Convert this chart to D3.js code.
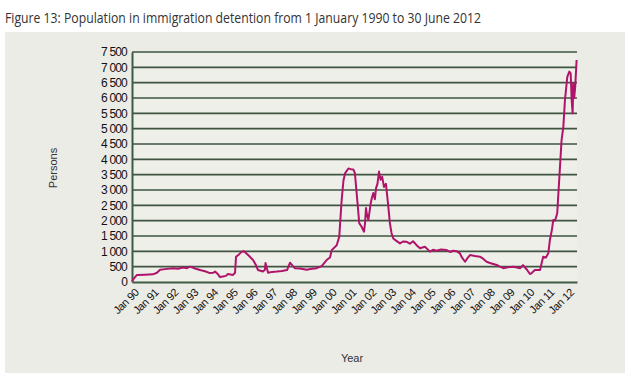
<!DOCTYPE html>
<html>
<head>
<meta charset="utf-8">
<script src="https://cdn.jsdelivr.net/npm/d3@7"></script>
<style>
  body { margin: 0; background: #fff; }
  svg text { font-family: "Liberation Sans", Arial, sans-serif; }
</style>
</head>
<body>
<div id="chart"></div>
<script>
// chart data (decimal year, persons in detention)
var years = [1990.00, 1990.10, 1990.25, 1990.66, 1991.06, 1991.26, 1991.42, 1991.67, 1992.07, 1992.33,
  1992.58, 1992.78, 1992.93, 1993.19, 1993.44, 1993.69, 1993.94, 1994.10, 1994.20, 1994.35,
  1994.45, 1994.60, 1994.75, 1994.85, 1995.11, 1995.21, 1995.26, 1995.41, 1995.55, 1995.66,
  1995.87, 1996.12, 1996.27, 1996.37, 1996.62, 1996.72, 1996.75, 1996.88, 1997.08, 1997.33,
  1997.58, 1997.84, 1997.99, 1998.14, 1998.24, 1998.49, 1998.83, 1999.10, 1999.34, 1999.59,
  1999.84, 2000.01, 2000.10, 2000.35, 2000.48, 2000.60, 2000.69, 2000.77, 2000.94, 2001.07,
  2001.19, 2001.27, 2001.39, 2001.49, 2001.61, 2001.73, 2001.78, 2001.83, 2001.88, 2001.95,
  2002.07, 2002.13, 2002.20, 2002.28, 2002.34, 2002.41, 2002.49, 2002.57, 2002.65, 2002.74,
  2002.84, 2002.96, 2003.04, 2003.12, 2003.21, 2003.35, 2003.55, 2003.70, 2003.89, 2004.05,
  2004.21, 2004.39, 2004.56, 2004.81, 2005.07, 2005.22, 2005.40, 2005.62, 2005.91, 2006.08,
  2006.24, 2006.43, 2006.58, 2006.68, 2006.84, 2006.94, 2007.09, 2007.34, 2007.59, 2007.75,
  2007.93, 2008.10, 2008.44, 2008.60, 2008.77, 2009.01, 2009.28, 2009.46, 2009.62, 2009.77,
  2009.97, 2010.12, 2010.22, 2010.37, 2010.63, 2010.79, 2010.93, 2011.05, 2011.13, 2011.23,
  2011.30, 2011.39, 2011.50, 2011.60, 2011.72, 2011.81, 2011.89, 2012.01, 2012.11, 2012.18,
  2012.23, 2012.28, 2012.31, 2012.36, 2012.41, 2012.48];
var persons = [30, 120, 230, 240, 250, 300, 400, 420, 450, 430,
  470, 450, 500, 440, 390, 350, 290, 300, 340, 250,
  160, 180, 200, 260, 230, 300, 820, 900, 990, 1000,
  880, 720, 550, 390, 340, 400, 620, 300, 330, 340,
  360, 390, 630, 520, 450, 440, 400, 430, 450, 520,
  715, 800, 1040, 1200, 1480, 2670, 3300, 3540, 3700, 3680,
  3670, 3550, 2670, 1920, 1800, 1640, 1900, 2410, 2200, 2020,
  2570, 2750, 2900, 2700, 3060, 3200, 3600, 3330, 3430, 3100,
  3200, 2460, 1920, 1600, 1420, 1350, 1260, 1320, 1310, 1250,
  1330, 1200, 1100, 1150, 990, 1050, 1020, 1060, 1040, 980,
  1020, 1000, 935, 800, 660, 760, 880, 850, 825, 760,
  660, 620, 555, 500, 450, 480, 500, 470, 450, 550,
  400, 260, 300, 390, 390, 825, 800, 935, 1370, 1700,
  2020, 2000, 2240, 3330, 4630, 5060, 5930, 6690, 6860, 6800,
  5930, 5500, 6480, 6000, 6370, 7240];
var yTicks = [0, 500, 1000, 1500, 2000, 2500, 3000, 3500, 4000, 4500, 5000, 5500, 6000, 6500, 7000, 7500];
var xTicks = d3.range(1990, 2013);
var xTickLabels = xTicks.map(function(y) { return "Jan " + String(y).slice(2); });
var title = "Figure 13: Population in immigration detention from 1 January 1990 to 30 June 2012";

var W = 640, H = 373;
var plotLeft = 132, plotRight = 577, plotTop = 52, plotBottom = 282;

var svg = d3.select("#chart").append("svg")
  .attr("width", W).attr("height", H);

// title
svg.append("text")
  .attr("x", 5).attr("y", 23)
  .style("font-family", "'Open Sans', sans-serif")
  .style("font-size", "15px")
  .attr("fill", "#333")
  .attr("textLength", 476)
  .attr("lengthAdjust", "spacingAndGlyphs")
  .text(title);

// grey panel
svg.append("rect")
  .attr("x", 5).attr("y", 32)
  .attr("width", 620).attr("height", H - 32)
  .attr("fill", "#ecece6");

var x = d3.scaleLinear().domain([1990, 2012.5]).range([plotLeft, plotRight]);
var y = d3.scaleLinear().domain([0, 7500]).range([plotBottom, plotTop]);

// plot background
svg.append("rect")
  .attr("x", plotLeft).attr("y", plotTop)
  .attr("width", plotRight - plotLeft).attr("height", plotBottom - plotTop)
  .attr("fill", "#efefea");

// horizontal grid lines
svg.append("g").selectAll("line")
  .data(yTicks.slice(1))
  .join("line")
  .attr("x1", plotLeft).attr("x2", plotRight)
  .attr("y1", function(d) { return y(d); })
  .attr("y2", function(d) { return y(d); })
  .attr("stroke", "#3f5441")
  .attr("stroke-width", 1.6);

// y axis
var fmt = function(d) { return d3.format(",")(d).replace(",", " "); };
var yAxis = svg.append("g")
  .attr("transform", "translate(" + plotLeft + ",0)")
  .call(d3.axisLeft(y).tickValues(yTicks).tickSize(0).tickPadding(5).tickFormat(fmt));
yAxis.select(".domain").attr("stroke", "#3f5a42").attr("stroke-width", 2);
yAxis.selectAll("text")
  .attr("font-size", 12)
  .attr("fill", "#111")
  .attr("letter-spacing", -0.8);

// x axis
var xAxis = svg.append("g")
  .attr("transform", "translate(0," + plotBottom + ")")
  .call(d3.axisBottom(x).tickValues(xTicks).tickSize(0)
    .tickFormat(function(d, i) { return xTickLabels[i]; }));
xAxis.select(".domain").attr("stroke", "#3f5a42").attr("stroke-width", 2.2);
xAxis.selectAll("text")
  .attr("font-size", 11)
  .attr("fill", "#111")
  .attr("letter-spacing", -0.4)
  .attr("text-anchor", "end")
  .attr("dy", 0)
  .attr("transform", "translate(5,9) rotate(-45)");

// the line
var line = d3.line()
  .x(function(d, i) { return x(years[i]); })
  .y(function(d) { return y(d); });
svg.append("path")
  .datum(persons)
  .attr("d", line)
  .attr("fill", "none")
  .attr("stroke", "#b0146a")
  .attr("stroke-width", 2)
  .attr("stroke-linejoin", "round");

// axis titles
svg.append("text")
  .attr("transform", "translate(57,168) rotate(-90)")
  .attr("text-anchor", "middle")
  .attr("font-size", 11)
  .attr("fill", "#333")
  .text("Persons");

svg.append("text")
  .attr("x", 352).attr("y", 362)
  .attr("text-anchor", "middle")
  .attr("font-size", 11)
  .attr("fill", "#333")
  .text("Year");
</script>
</body>
</html>
